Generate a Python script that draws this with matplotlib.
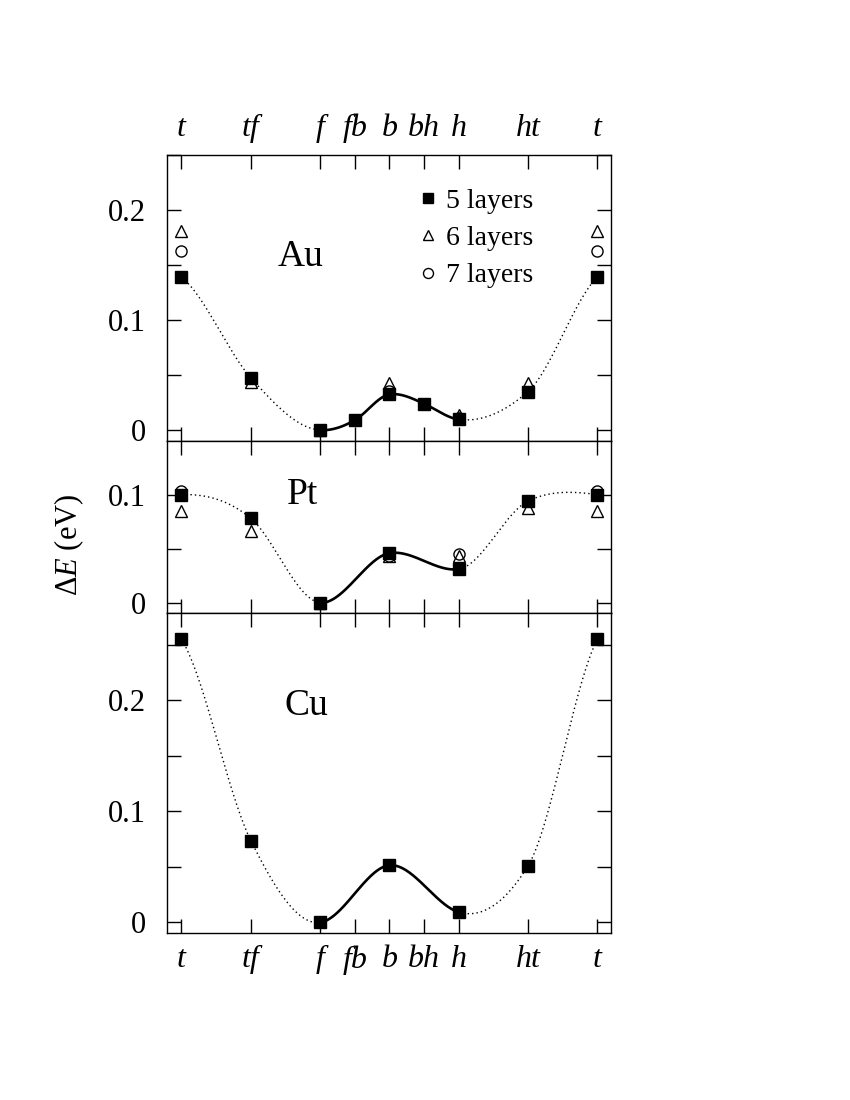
import numpy as np
import matplotlib
matplotlib.use("Agg")
import matplotlib.pyplot as plt

plt.rcParams['font.family'] = ['Liberation Serif', 'DejaVu Serif']
plt.rcParams['mathtext.fontset'] = 'custom'
plt.rcParams['mathtext.rm'] = 'Liberation Serif'
plt.rcParams['mathtext.it'] = 'Liberation Serif:italic'

# ---- data ----
site_pos = [0, 2, 4, 5, 6, 7, 8, 10, 12]
site_labels = ['t', 'tf', 'f', 'fb', 'b', 'bh', 'h', 'ht', 't']

# Au
au_x5 = [0, 2, 4, 5, 6, 7, 8, 10, 12]
au_y5 = [0.139, 0.0476, 0.0, 0.009, 0.0324, 0.024, 0.0097, 0.035, 0.139]
au_x6 = [0, 2, 4, 6, 8, 10, 12]
au_y6 = [0.181, 0.044, 0.0, 0.043, 0.0136, 0.043, 0.181]
au_x7 = [0, 4, 6, 8, 12]
au_y7 = [0.163, 0.0, 0.036, 0.011, 0.163]

# Pt
pt_x5 = [0, 2, 4, 6, 8, 10, 12]
pt_y5 = [0.100, 0.078, 0.0, 0.0458, 0.031, 0.094, 0.100]
pt_x6 = [0, 2, 4, 6, 8, 10, 12]
pt_y6 = [0.085, 0.066, 0.0, 0.043, 0.043, 0.088, 0.085]
pt_x7 = [0, 4, 6, 8, 12]
pt_y7 = [0.103, 0.0, 0.043, 0.045, 0.103]

# Cu
cu_x5 = [0, 2, 4, 6, 8, 10, 12]
cu_y5 = [0.255, 0.0738, 0.0, 0.0515, 0.0093, 0.0509, 0.255]

legend_labels = ['5 layers', '6 layers', '7 layers']


def natural_spline(x, y, xs):
    x = np.asarray(x, float); y = np.asarray(y, float)
    n = len(x); h = np.diff(x)
    A = np.zeros((n, n)); r = np.zeros(n)
    A[0, 0] = 1; A[-1, -1] = 1
    for i in range(1, n - 1):
        A[i, i - 1] = h[i - 1]
        A[i, i] = 2 * (h[i - 1] + h[i])
        A[i, i + 1] = h[i]
        r[i] = 6 * ((y[i + 1] - y[i]) / h[i] - (y[i] - y[i - 1]) / h[i - 1])
    M = np.linalg.solve(A, r)
    idx = np.clip(np.searchsorted(x, xs) - 1, 0, n - 2)
    x0 = x[idx]; x1 = x[idx + 1]; hh = x1 - x0
    a = (x1 - xs) / hh; b = (xs - x0) / hh
    return (a * y[idx] + b * y[idx + 1]
            + ((a ** 3 - a) * M[idx] + (b ** 3 - b) * M[idx + 1]) * hh ** 2 / 6)


def pchip_periodic(x, y, xs):
    x = np.asarray(x, float); y = np.asarray(y, float)
    n = len(x); h = np.diff(x); dl_ = np.diff(y) / h
    d = np.zeros(n)
    for k in range(n):
        if k == 0 or k == n - 1:
            hl, dl, hr, dr = h[-1], dl_[-1], h[0], dl_[0]
        else:
            hl, dl, hr, dr = h[k - 1], dl_[k - 1], h[k], dl_[k]
        if dl * dr <= 0:
            d[k] = 0.0
        else:
            w1 = 2 * hr + hl; w2 = hr + 2 * hl
            d[k] = (w1 + w2) / (w1 / dl + w2 / dr)
    idx = np.clip(np.searchsorted(x, xs) - 1, 0, n - 2)
    hh = x[idx + 1] - x[idx]
    t = (xs - x[idx]) / hh
    h00 = 2 * t**3 - 3 * t**2 + 1
    h10 = t**3 - 2 * t**2 + t
    h01 = -2 * t**3 + 3 * t**2
    h11 = t**3 - t**2
    return h00 * y[idx] + h10 * hh * d[idx] + h01 * y[idx + 1] + h11 * hh * d[idx + 1]


def smooth_curve(x, y, xs):
    return 0.5 * natural_spline(x, y, xs) + 0.5 * pchip_periodic(x, y, xs)


fig = plt.figure(figsize=(8.5, 11), dpi=100)
L, W = 0.196, 0.523
ax_au = fig.add_axes([L, 0.599, W, 0.260])
ax_pt = fig.add_axes([L, 0.443, W, 0.156])
ax_cu = fig.add_axes([L, 0.152, W, 0.291])

ms = 8
fs_tick = 22


def draw(ax, x5, y5, name, name_xy, ylim, x6=None, y6=None, x7=None, y7=None):
    xs = np.linspace(0, 12, 800)
    ys = smooth_curve(x5, y5, xs)
    solid = (xs >= 4) & (xs <= 8)
    ax.plot(np.where(xs <= 4.0, xs, np.nan), ys, ls=(0, (1, 2.2)), color='black', lw=1.0)
    ax.plot(np.where(xs >= 8.0, xs, np.nan), ys, ls=(0, (1, 2.2)), color='black', lw=1.0)
    ax.plot(xs[solid], ys[solid], '-', color='black', lw=1.9)
    h6 = h7 = None
    if x6 is not None:
        h6, = ax.plot(x6, y6, '^', ms=ms, mfc='none', mec='black', mew=1.0, ls='none', zorder=3)
    if x7 is not None:
        h7, = ax.plot(x7, y7, 'o', ms=ms, mfc='none', mec='black', mew=1.0, ls='none', zorder=3)
    h5, = ax.plot(x5, y5, 's', ms=ms, color='black', ls='none', zorder=4)
    ax.text(name_xy[0], name_xy[1], name, fontsize=27, ha='center', va='center')
    ax.set_xlim(-0.43, 12.4)
    ax.set_ylim(*ylim)
    ax.set_xticks(site_pos)
    ax.set_xticklabels(site_labels, fontstyle='italic', fontsize=23)
    yt = np.arange(0, ylim[1] + 1e-9, 0.05)
    ax.set_yticks(yt)
    ax.set_yticklabels(['0' if abs(v) < 1e-9 else ('%.1f' % v if round(v * 20) % 2 == 0 else '') for v in yt])
    ax.tick_params(direction='in', length=10, width=1.0, top=True, right=True,
                   labelsize=fs_tick, labelbottom=False, labeltop=False, pad=15)
    ax.tick_params(axis='x', pad=9, labelsize=23)
    for s in ax.spines.values():
        s.set_linewidth(1.0)
    return h5, h6, h7


h5, h6, h7 = draw(ax_au, au_x5, au_y5, 'Au', (3.45, 0.158), (-0.01, 0.25),
                  au_x6, au_y6, au_x7, au_y7)
draw(ax_pt, pt_x5, pt_y5, 'Pt', (3.5, 0.100), (-0.0093, 0.1495),
     pt_x6, pt_y6, pt_x7, pt_y7)
draw(ax_cu, cu_x5, cu_y5, 'Cu', (3.6, 0.195), (-0.0093, 0.279))

ax_au.tick_params(axis='x', labeltop=True)
ax_cu.tick_params(axis='x', labelbottom=True)

ax_au.legend([h5, h6, h7], legend_labels, loc='upper left', bbox_to_anchor=(0.563, 0.883),
             frameon=False, fontsize=20, handlelength=0.8, handletextpad=0.25,
             labelspacing=0.42, markerscale=0.9, borderpad=0, borderaxespad=0)

fig.text(0.082, 0.505, r'$\Delta E$ (eV)', rotation=90, fontsize=22, ha='center', va='center')

fig.savefig('out.png', dpi=100)
